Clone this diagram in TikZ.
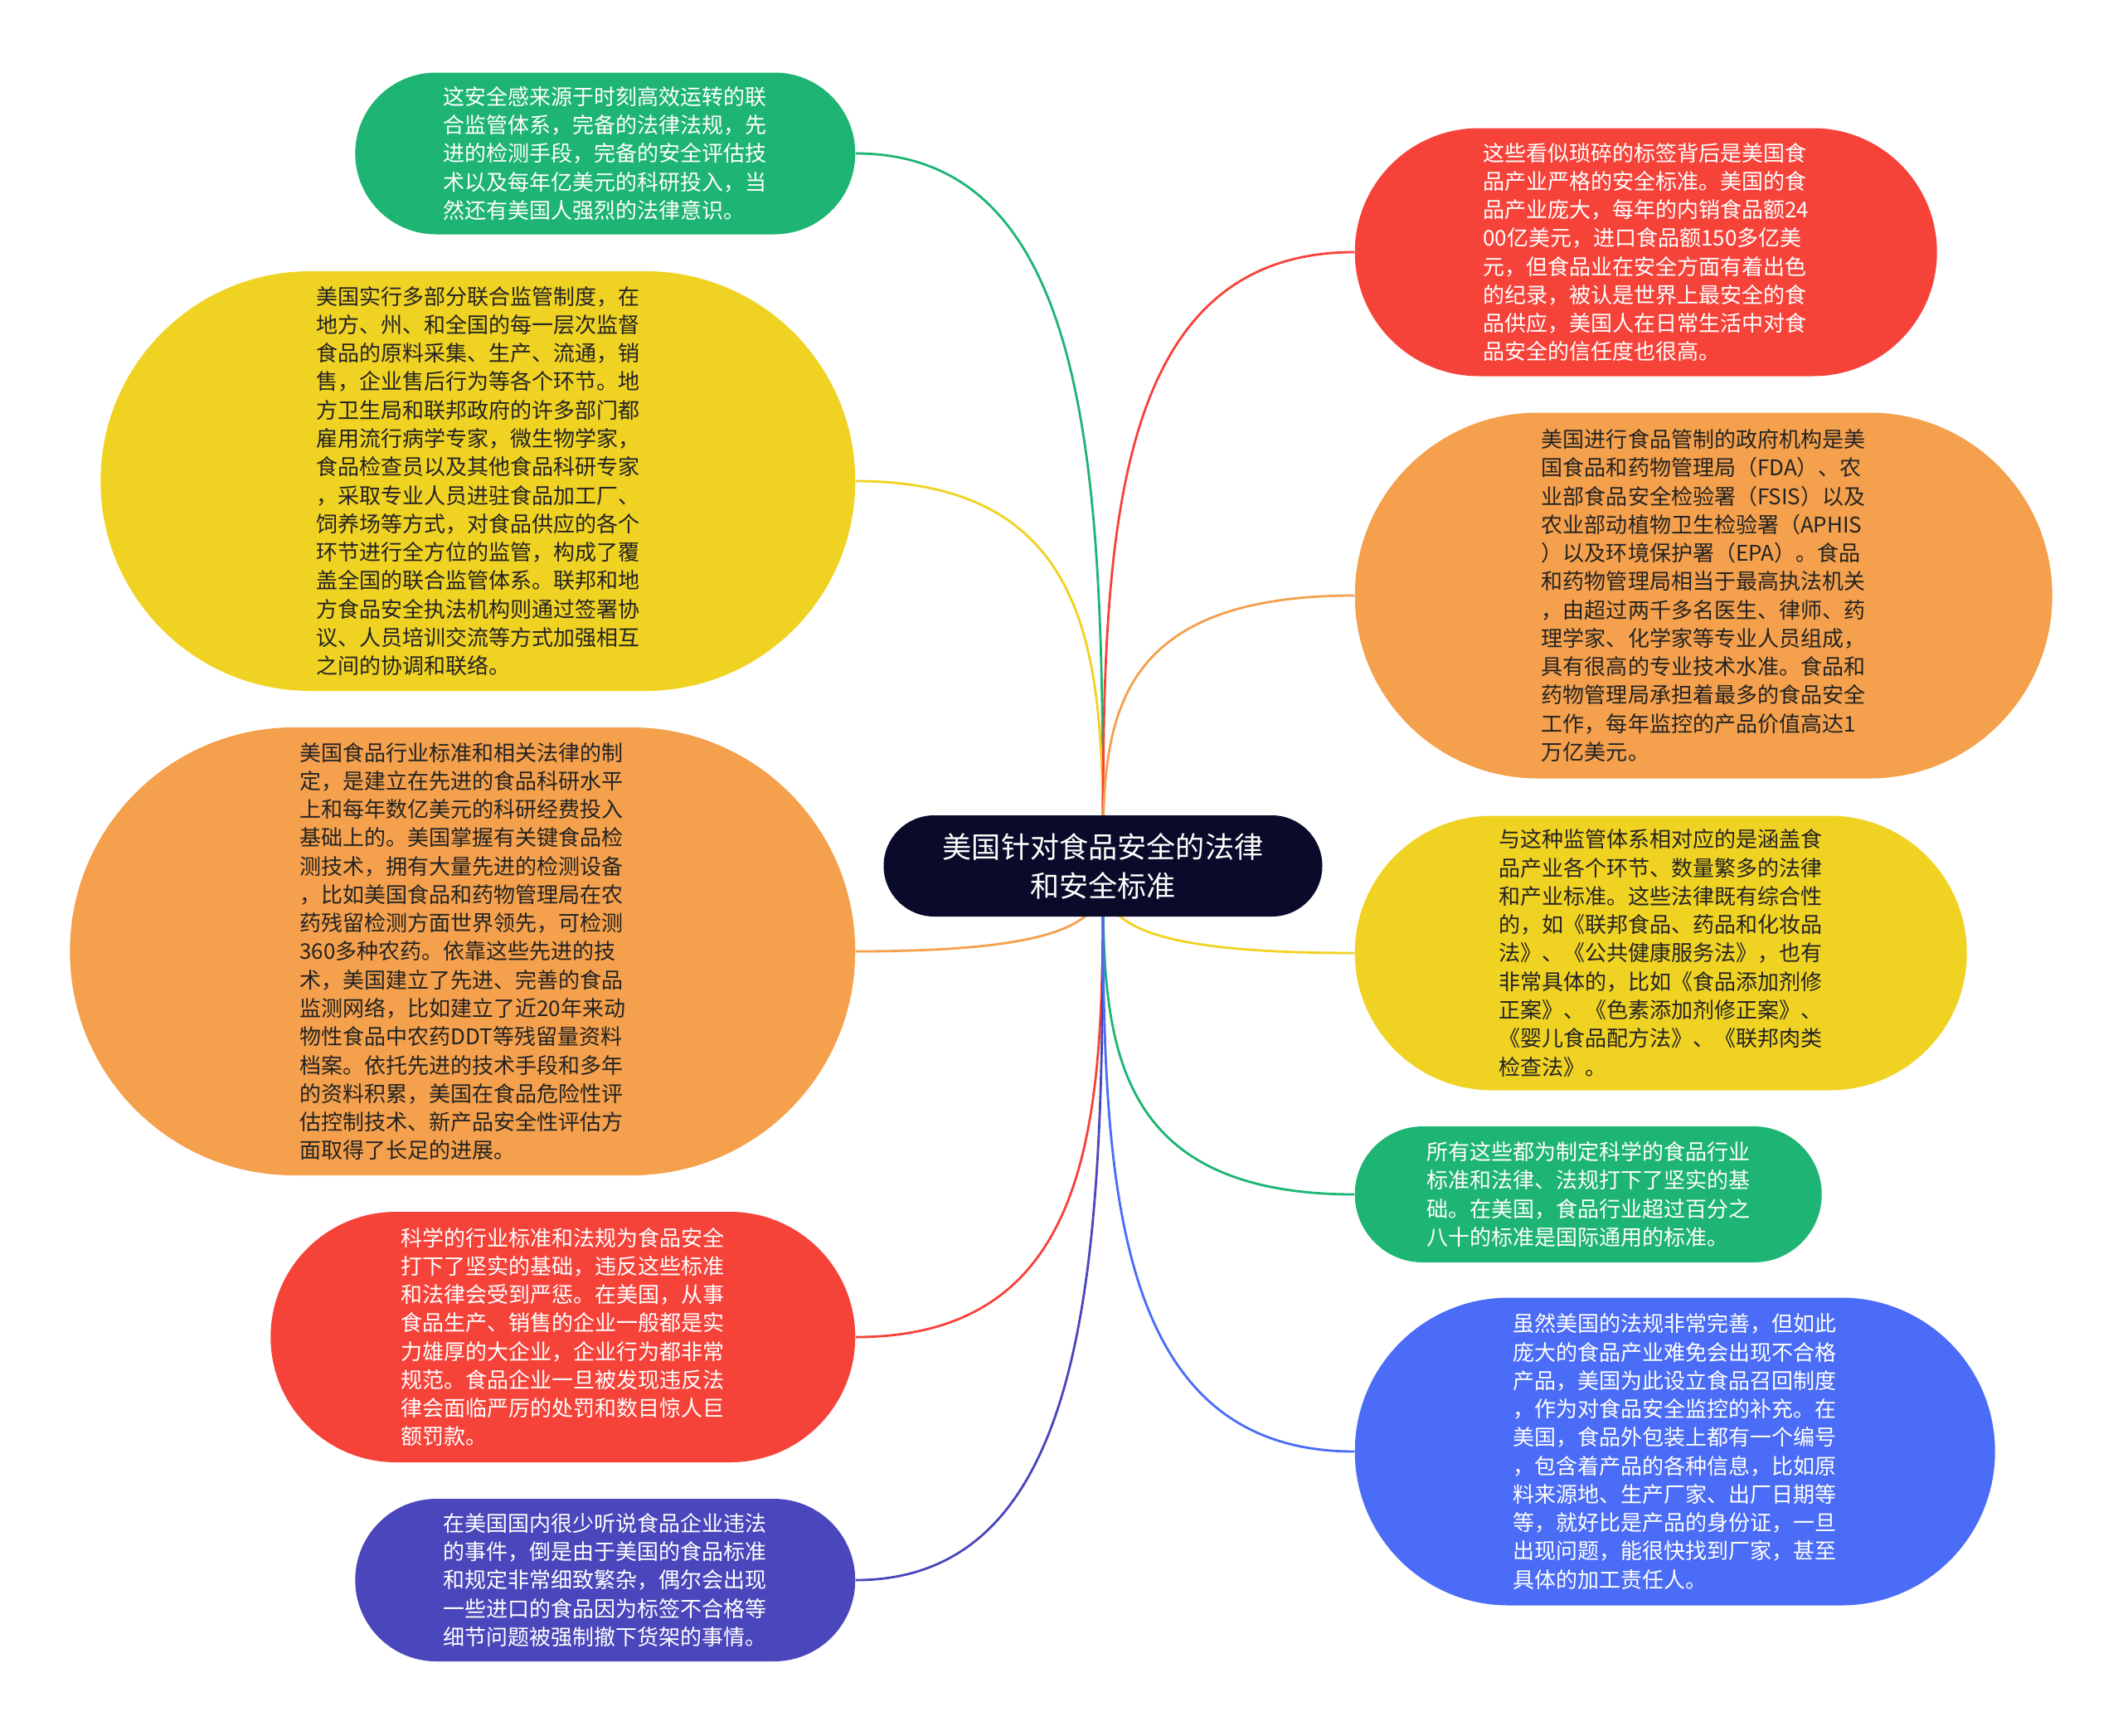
\documentclass[tikz,border=0pt]{standalone}
\usepackage{fontspec}
\setmainfont{Noto Sans CJK SC}
\usepackage{tikz}
\usetikzlibrary{calc, backgrounds}
\definecolor{mygreen}{RGB}{30,180,115}
\definecolor{myyellow}{RGB}{240,210,35}
\definecolor{myorange}{RGB}{244,160,76}
\definecolor{myred}{RGB}{246,67,58}
\definecolor{mypurple}{RGB}{74,70,187}
\definecolor{myblue}{RGB}{74,108,246}
\definecolor{mynavy}{RGB}{10,10,42}
\definecolor{mytext}{RGB}{35,35,35}
\tikzset{
  bubble/.style n args={3}{rectangle, fill=#1, minimum width=#2, minimum height=#3,
    rounded corners=#3/2, inner sep=0pt, align=left,
    font=\fontsize{7.4pt}{9.75pt}\selectfont},
  lighttext/.style={text=white},
  darktext/.style={text=mytext},
  topic/.style={rectangle, fill=mynavy, text=white, minimum width=5.29cm,
    minimum height=1.22cm, rounded corners=0.61cm, align=center,
    font=\fontsize{10pt}{13.4pt}\selectfont},
  link/.style={line width=0.8pt}
}

\begin{document}
\begin{tikzpicture}
  \useasboundingbox (0,0) rectangle (25.6,-20.92);

  \node [topic] (root) at (13.30,-10.44) {美国针对食品安全的法律\\和安全标准};

  % left side
  \node [bubble={mygreen}{6.03cm}{1.95cm}, lighttext, anchor=east] (g1) at (10.32,-1.85) {%
    这安全感来源于时刻高效运转的联\\合监管体系，完备的法律法规，先\\进的检测手段，完备的安全评估技\\术以及每年亿美元的科研投入，当\\然还有美国人强烈的法律意识。};
  \node [bubble={myyellow}{9.10cm}{5.06cm}, darktext, anchor=east] (y1) at (10.32,-5.80) {%
    美国实行多部分联合监管制度，在\\地方、州、和全国的每一层次监督\\食品的原料采集、生产、流通，销\\售，企业售后行为等各个环节。地\\方卫生局和联邦政府的许多部门都\\雇用流行病学专家，微生物学家，\\食品检查员以及其他食品科研专家\\，采取专业人员进驻食品加工厂、\\饲养场等方式，对食品供应的各个\\环节进行全方位的监管，构成了覆\\盖全国的联合监管体系。联邦和地\\方食品安全执法机构则通过签署协\\议、人员培训交流等方式加强相互\\之间的协调和联络。};
  \node [bubble={myorange}{9.47cm}{5.40cm}, darktext, anchor=east] (o1) at (10.32,-11.47) {%
    美国食品行业标准和相关法律的制\\定，是建立在先进的食品科研水平\\上和每年数亿美元的科研经费投入\\基础上的。美国掌握有关键食品检\\测技术，拥有大量先进的检测设备\\，比如美国食品和药物管理局在农\\药残留检测方面世界领先，可检测\\360多种农药。依靠这些先进的技\\术，美国建立了先进、完善的食品\\监测网络，比如建立了近20年来动\\物性食品中农药DDT等残留量资料\\档案。依托先进的技术手段和多年\\的资料积累，美国在食品危险性评\\估控制技术、新产品安全性评估方\\面取得了长足的进展。};
  \node [bubble={myred}{7.05cm}{3.02cm}, lighttext, anchor=east] (r1) at (10.32,-16.12) {%
    科学的行业标准和法规为食品安全\\打下了坚实的基础，违反这些标准\\和法律会受到严惩。在美国，从事\\食品生产、销售的企业一般都是实\\力雄厚的大企业，企业行为都非常\\规范。食品企业一旦被发现违反法\\律会面临严厉的处罚和数目惊人巨\\额罚款。};
  \node [bubble={mypurple}{6.03cm}{1.96cm}, lighttext, anchor=east] (p1) at (10.32,-19.05) {%
    在美国国内很少听说食品企业违法\\的事件，倒是由于美国的食品标准\\和规定非常细致繁杂，偶尔会出现\\一些进口的食品因为标签不合格等\\细节问题被强制撤下货架的事情。};

  % right side
  \node [bubble={myred}{7.02cm}{2.99cm}, lighttext, anchor=west] (r2) at (16.33,-3.04) {%
    这些看似琐碎的标签背后是美国食\\品产业严格的安全标准。美国的食\\品产业庞大，每年的内销食品额24\\00亿美元，进口食品额150多亿美\\元，但食品业在安全方面有着出色\\的纪录，被认是世界上最安全的食\\品供应，美国人在日常生活中对食\\品安全的信任度也很高。};
  \node [bubble={myorange}{8.41cm}{4.41cm}, darktext, anchor=west] (o2) at (16.33,-7.18) {%
    美国进行食品管制的政府机构是美\\国食品和药物管理局（FDA）、农\\业部食品安全检验署（FSIS）以及\\农业部动植物卫生检验署（APHIS\\）以及环境保护署（EPA）。食品\\和药物管理局相当于最高执法机关\\，由超过两千多名医生、律师、药\\理学家、化学家等专业人员组成，\\具有很高的专业技术水准。食品和\\药物管理局承担着最多的食品安全\\工作，每年监控的产品价值高达1\\万亿美元。};
  \node [bubble={myyellow}{7.38cm}{3.31cm}, darktext, anchor=west] (y2) at (16.33,-11.49) {%
    与这种监管体系相对应的是涵盖食\\品产业各个环节、数量繁多的法律\\和产业标准。这些法律既有综合性\\的，如《联邦食品、药品和化妆品\\法》、《公共健康服务法》，也有\\非常具体的，比如《食品添加剂修\\正案》、《色素添加剂修正案》、\\《婴儿食品配方法》、《联邦肉类\\检查法》。};
  \node [bubble={mygreen}{5.63cm}{1.64cm}, lighttext, anchor=west] (g2) at (16.33,-14.40) {%
    所有这些都为制定科学的食品行业\\标准和法律、法规打下了坚实的基\\础。在美国，食品行业超过百分之\\八十的标准是国际通用的标准。};
  \node [bubble={myblue}{7.72cm}{3.71cm}, lighttext, anchor=west] (b2) at (16.33,-17.50) {%
    虽然美国的法规非常完善，但如此\\庞大的食品产业难免会出现不合格\\产品，美国为此设立食品召回制度\\，作为对食品安全监控的补充。在\\美国，食品外包装上都有一个编号\\，包含着产品的各种信息，比如原\\料来源地、生产厂家、出厂日期等\\等，就好比是产品的身份证，一旦\\出现问题，能很快找到厂家，甚至\\具体的加工责任人。};

  % links, behind the nodes
  \begin{scope}[on background layer]
    \foreach \n/\c in {g1/mygreen, y1/myyellow, o1/myorange, r1/myred, p1/mypurple}
      \draw [link, \c] (\n.east) .. controls (root.center |- \n.east)
        and ($(root.center)!0.5!(root.center |- \n.east)$) .. (root.center);
    \foreach \n/\c in {r2/myred, o2/myorange, y2/myyellow, g2/mygreen, b2/myblue}
      \draw [link, \c] (\n.west) .. controls (root.center |- \n.west)
        and ($(root.center)!0.5!(root.center |- \n.west)$) .. (root.center);
  \end{scope}
\end{tikzpicture}
\end{document}
